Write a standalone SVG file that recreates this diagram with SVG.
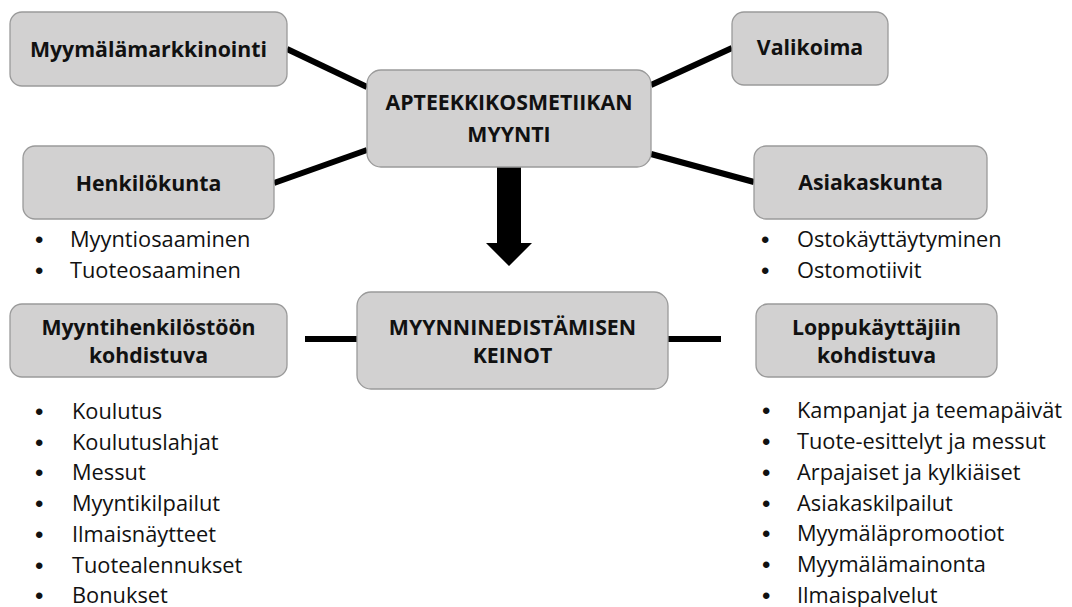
<svg xmlns="http://www.w3.org/2000/svg" width="1072" height="607" viewBox="0 0 1072 607">
<style>
.box{fill:#d2d1d1;stroke:#9a9a9a;stroke-width:1.3}
.lbl{font-family:"Open Sans","Liberation Sans",sans-serif;font-weight:bold;font-size:21.3px;fill:#111;text-anchor:middle}
.li{font-family:"Open Sans","Liberation Sans",sans-serif;font-size:21.8px;fill:#111}
.bu{font-family:"Liberation Sans",sans-serif;font-size:24px;fill:#111}
.con{stroke:#000;stroke-width:6;fill:none}
</style>
<rect width="1072" height="607" fill="#fff"/>
<g id="connectors">
<line class="con" x1="287" y1="49" x2="367" y2="87"/>
<line class="con" x1="274" y1="183" x2="367" y2="150"/>
<line class="con" x1="732" y1="48" x2="651" y2="85"/>
<line class="con" x1="754" y1="182" x2="651" y2="154"/>
<line class="con" x1="305" y1="339" x2="357" y2="339"/>
<line class="con" x1="668" y1="339" x2="721" y2="339"/>
<polygon points="497,167 521,167 521,243 532,243 509,266 486,243 497,243" fill="#000"/>
</g>
<g id="myymalamarkkinointi">
<rect class="box" x="10" y="12" width="277" height="74" rx="12"/>
<text class="lbl" x="148.5" y="57">Myymälämarkkinointi</text>
</g>
<g id="henkilokunta">
<rect class="box" x="23" y="146" width="251" height="73" rx="12"/>
<text class="lbl" x="148.5" y="191">Henkilökunta</text>
</g>
<g id="apteekki">
<rect class="box" x="367" y="70" width="284" height="97" rx="14"/>
<text class="lbl" x="509" y="110">APTEEKKIKOSMETIIKAN</text>
<text class="lbl" x="509" y="142">MYYNTI</text>
</g>
<g id="valikoima">
<rect class="box" x="732" y="12" width="156" height="73" rx="12"/>
<text class="lbl" x="810" y="55">Valikoima</text>
</g>
<g id="asiakaskunta">
<rect class="box" x="754" y="146" width="233" height="73" rx="12"/>
<text class="lbl" x="870.5" y="190">Asiakaskunta</text>
</g>
<g id="henkilokunta-list">
<text class="bu" x="35" y="248">•</text><text class="li" x="70" y="247">Myyntiosaaminen</text>
<text class="bu" x="35" y="279">•</text><text class="li" x="70" y="278">Tuoteosaaminen</text>
</g>
<g id="asiakaskunta-list">
<text class="bu" x="761" y="248">•</text><text class="li" x="797" y="247">Ostokäyttäytyminen</text>
<text class="bu" x="761" y="279">•</text><text class="li" x="797" y="278">Ostomotiivit</text>
</g>
<g id="myyntihenkilosto">
<rect class="box" x="10" y="304" width="277" height="73" rx="12"/>
<text class="lbl" x="148.5" y="335">Myyntihenkilöstöön</text>
<text class="lbl" x="148.5" y="363">kohdistuva</text>
</g>
<g id="keinot">
<rect class="box" x="357" y="292" width="311" height="97" rx="14"/>
<text class="lbl" x="512.5" y="335">MYYNNINEDISTÄMISEN</text>
<text class="lbl" x="512.5" y="363">KEINOT</text>
</g>
<g id="loppukayttajat">
<rect class="box" x="756" y="304" width="241" height="73" rx="12"/>
<text class="lbl" x="876.5" y="335">Loppukäyttäjiin</text>
<text class="lbl" x="876.5" y="363">kohdistuva</text>
</g>
<g id="left-list">
<text class="bu" x="35" y="420">•</text><text class="li" x="72" y="419">Koulutus</text>
<text class="bu" x="35" y="451">•</text><text class="li" x="72" y="450">Koulutuslahjat</text>
<text class="bu" x="35" y="481">•</text><text class="li" x="72" y="480">Messut</text>
<text class="bu" x="35" y="512">•</text><text class="li" x="72" y="511">Myyntikilpailut</text>
<text class="bu" x="35" y="543">•</text><text class="li" x="72" y="542">Ilmaisnäytteet</text>
<text class="bu" x="35" y="574">•</text><text class="li" x="72" y="573">Tuotealennukset</text>
<text class="bu" x="35" y="604">•</text><text class="li" x="72" y="603">Bonukset</text>
</g>
<g id="right-list">
<text class="bu" x="762" y="419">•</text><text class="li" x="797" y="418">Kampanjat ja teemapäivät</text>
<text class="bu" x="762" y="450">•</text><text class="li" x="797" y="449">Tuote-esittelyt ja messut</text>
<text class="bu" x="762" y="481">•</text><text class="li" x="797" y="480">Arpajaiset ja kylkiäiset</text>
<text class="bu" x="762" y="512">•</text><text class="li" x="797" y="511">Asiakaskilpailut</text>
<text class="bu" x="762" y="542">•</text><text class="li" x="797" y="541">Myymäläpromootiot</text>
<text class="bu" x="762" y="573">•</text><text class="li" x="797" y="572">Myymälämainonta</text>
<text class="bu" x="762" y="604">•</text><text class="li" x="797" y="603">Ilmaispalvelut</text>
</g>
</svg>
